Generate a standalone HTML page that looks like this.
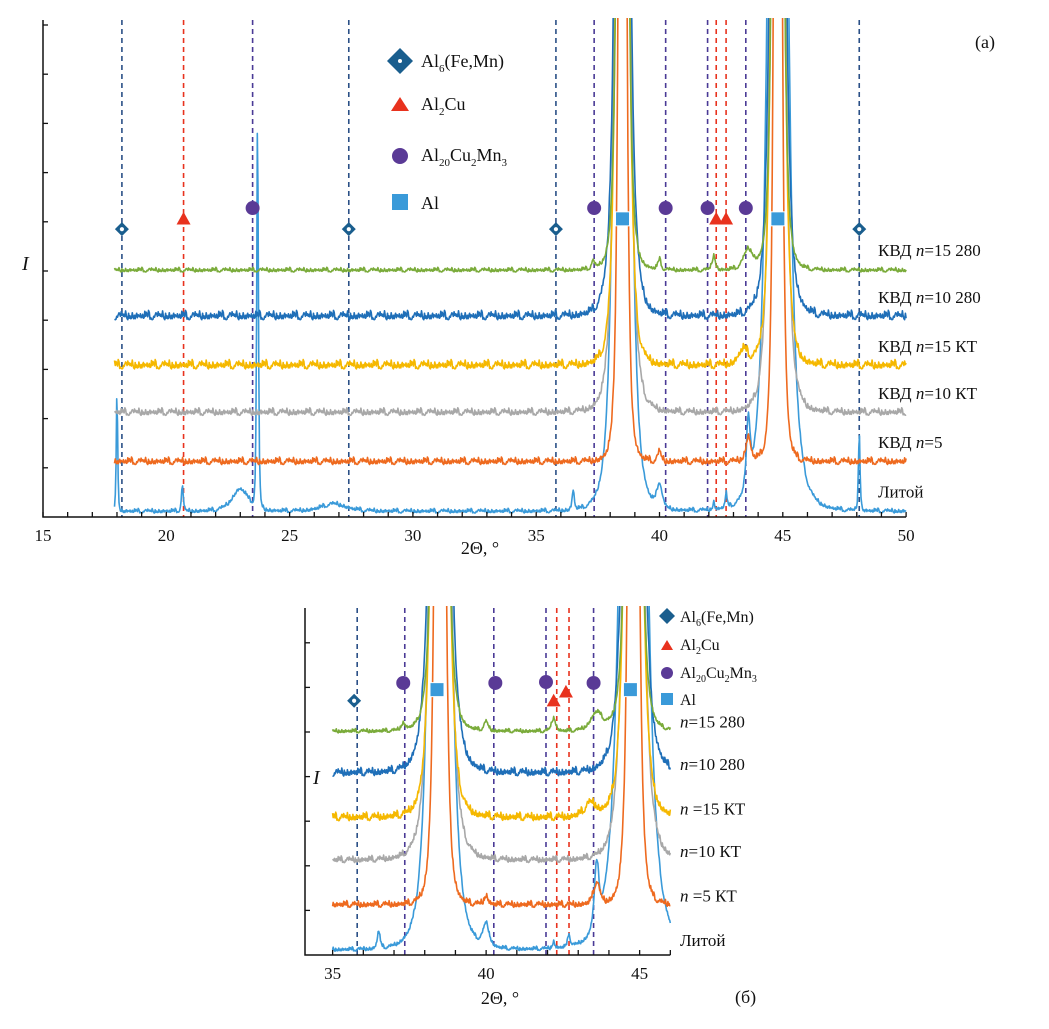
<!DOCTYPE html>
<html><head><meta charset="utf-8"><style>
body{margin:0;background:#fff}
svg text{font-family:"Liberation Serif",serif;fill:#111}
</style></head><body>
<svg id="s" width="1049" height="1024" viewBox="0 0 1049 1024">
<defs>
<clipPath id="ca"><rect x="43" y="18" width="864" height="500"/></clipPath>
<clipPath id="cb"><rect x="305" y="606" width="370" height="350"/></clipPath>
</defs>
<g id="ga"></g>
<g id="gb"></g>
</svg>
<script>
// ---- data ----
const seriesNames = ["Литой","КВД n=5","КВД n=10 КТ","КВД n=15 КТ","КВД n=10 280","КВД n=15 280"];
const seriesColors = ["#3a9ad9","#ee6a1f","#a8a8a8","#f5b800","#1f6fb8","#7aab3a"];
const seriesOffsets = [0.1,1.1,2.1,3.05,4.05,5.0];
const noiseAmp = [0.5,0.8,0.8,1.0,1.0,0.5];
// peaks per series: [position, height, width]
const peaksLit = [[18.0,2.5,0.05],[20.65,0.5,0.07],[23.0,0.45,0.6],[23.7,8,0.06],[26.8,0.15,0.9],[36.5,0.4,0.08],[38.5,40,0.35],[40.0,0.5,0.18],[42.2,0.15,0.07],[42.7,0.3,0.07],[43.6,1.4,0.14],[44.8,40,0.45],[48.1,1.6,0.06]];
const peaksN5 = [[38.5,40,0.18],[44.8,40,0.18],[40.0,0.2,0.12],[43.6,0.5,0.18]];
const peaksN10KT = [[38.5,40,0.3],[44.8,40,0.3]];
const peaksN15KT = [[38.5,40,0.26],[44.8,40,0.26],[43.4,0.3,0.35]];
const peaksN10280 = [[38.5,40,0.3],[44.8,40,0.3]];
const peaksN15280 = [[38.5,40,0.22],[44.8,40,0.22],[42.2,0.3,0.12],[43.6,0.4,0.35],[37.3,0.15,0.12],[40.0,0.2,0.12]];
const seriesPeaks = [peaksLit,peaksN5,peaksN10KT,peaksN15KT,peaksN10280,peaksN15280];
const jitter = [0.02,0.08,-0.03,0.11,0.0,0.05,-0.02,0.14,0.03,-0.04,0.06,0.01,0.09,-0.01,0.04,0.12,-0.03,0.02,0.07,0.0,0.1,-0.02,0.05,0.03,0.15,-0.01,0.06,0.02,-0.04,0.08,0.01,0.11,0.0,0.04,-0.02,0.09,0.03,0.06,-0.03,0.13,0.02,0.05,-0.01,0.07,0.1,0.0,0.03,0.08,-0.02,0.04];
// reference lines: [position, phase]
const refLines = [[18.2,"fe"],[20.7,"cu"],[23.5,"mn"],[27.4,"fe"],[35.8,"fe"],[37.35,"mn"],[40.25,"mn"],[41.95,"mn"],[42.3,"cu"],[42.7,"cu"],[43.5,"mn"],[48.1,"fe"]];
const markersA = [[18.2,"fe",5.85],[20.7,"cu",6.06],[23.5,"mn",6.28],[27.4,"fe",5.85],[35.8,"fe",5.85],[37.35,"mn",6.28],[38.5,"al",6.06],[40.25,"mn",6.28],[41.95,"mn",6.28],[42.3,"cu",6.06],[42.7,"cu",6.06],[43.5,"mn",6.28],[44.8,"al",6.06],[48.1,"fe",5.85]];
const markersB = [[35.7,"fe",5.7],[37.3,"mn",6.1],[38.4,"al",5.95],[40.3,"mn",6.1],[41.95,"mn",6.12],[42.2,"cu",5.7],[42.6,"cu",5.9],[43.5,"mn",6.1],[44.7,"al",5.95]];
const xTicksA = [15,20,25,30,35,40,45,50];
const xTicksB = [35,40,45];
const labelsA = ["Литой","КВД n=5","КВД n=10 КТ","КВД n=15 КТ","КВД n=10 280","КВД n=15 280"];
const labelsB = ["Литой","n =5 КТ","n=10 КТ","n =15 КТ","n=10 280","n=15 280"];

const NS="http://www.w3.org/2000/svg";
const phaseColor={fe:"#1a5e8e",cu:"#e8321e",mn:"#5a3a96",al:"#3a9ad9"};
const lineColor={fe:"#2a4f86",cu:"#e8321e",mn:"#4a3a96"};
function mk(p,tag,at){const e=document.createElementNS(NS,tag);for(const k in at)e.setAttribute(k,at[k]);p.appendChild(e);return e;}
function intensity(i,x,k){let v=seriesOffsets[i];for(const p of seriesPeaks[i]){const u=(x-p[0])/p[2];const q=1+u*u;v+=p[1]/(q*q);}v+=noiseAmp[i]*jitter[(k*7+i*13)%jitter.length];return v;}
function marker(g,ph,cx,cy,r){let e;
 if(ph==="fe"){e=mk(g,"polygon",{points:`${cx},${cy-r} ${cx+r},${cy} ${cx},${cy+r} ${cx-r},${cy}`,fill:phaseColor.fe});mk(g,"circle",{cx,cy,r:r*0.3,fill:"#fff"});}
 else if(ph==="cu")e=mk(g,"polygon",{points:`${cx},${cy-r} ${cx+r},${cy+r*0.8} ${cx-r},${cy+r*0.8}`,fill:phaseColor.cu});
 else if(ph==="mn")e=mk(g,"circle",{cx,cy,r,fill:phaseColor.mn});
 else e=mk(g,"rect",{x:cx-r,y:cy-r,width:2*r,height:2*r,fill:phaseColor.al,stroke:"#fff","stroke-width":1});
 return e;}
function chart(cfg){
 const g=document.getElementById(cfg.id);
 const X=v=>cfg.x0+(v-cfg.d0)*cfg.kx, Y=v=>cfg.y0-v*cfg.ky;
 for(const r of refLines){ if(r[0]<cfg.d0||r[0]>cfg.d1)continue;
  const l=mk(g,"line",{x1:X(r[0]),x2:X(r[0]),y1:cfg.top,y2:cfg.y0,stroke:lineColor[r[1]],"stroke-width":1.6,"stroke-dasharray":"5,4"});
  
  }
 const sg=mk(g,"g",{"clip-path":`url(#${cfg.clip})`});
 for(let i=0;i<6;i++){let d="",k=0;
  for(let x=cfg.s0;x<=cfg.s1+1e-9;x+=cfg.step,k++){d+=(k?"L":"M")+X(x).toFixed(1)+","+Y(Math.min(intensity(i,x,k),30)).toFixed(1);}
  const p=mk(sg,"path",{d,fill:"none",stroke:seriesColors[i],"stroke-width":1.6,"stroke-linejoin":"round"});
  
  }
 for(const m of cfg.markers){const e=marker(g,m[1],X(m[0]),Y(m[2]),cfg.mr);
  
  }
 const ax=mk(g,"path",{d:`M${cfg.x0},${cfg.top}V${cfg.y0}H${X(cfg.d1)}`,fill:"none",stroke:"#111","stroke-width":1.5});
 
 
 for(let v=1;v*cfg.ky<=cfg.y0-cfg.top;v++)mk(g,"line",{x1:cfg.x0,x2:cfg.x0+5,y1:Y(v),y2:Y(v),stroke:"#111","stroke-width":1.3});
 for(let v=Math.ceil(cfg.d0);v<=cfg.d1;v++)mk(g,"line",{x1:X(v),x2:X(v),y1:cfg.y0,y2:cfg.y0-5,stroke:"#111","stroke-width":1.3});
 for(const t of cfg.ticks){const e=mk(g,"text",{x:X(t),y:cfg.y0+24,"text-anchor":"middle","font-size":17});e.textContent=t;
  
  }
 for(let i=0;i<6;i++){const b=cfg.labels[i],e=mk(g,"text",{x:cfg.lx,y:Y(seriesOffsets[i]+cfg.ldy),"font-size":cfg.lfs});
  const parts=b.split("n");
  if(parts.length>1){e.appendChild(document.createTextNode(parts[0]));const t=mk(e,"tspan",{"font-style":"italic"});t.textContent="n";e.appendChild(document.createTextNode(parts[1]));}
  else e.textContent=b;
  
  }
}
chart({id:"ga",clip:"ca",x0:43,y0:517,top:20,d0:15,d1:50,kx:24.66,ky:49.2,s0:17.9,s1:50,step:0.03,markers:markersA,mr:7,ticks:xTicksA,labels:labelsA,lx:878,ldy:0.3,lfs:17});
chart({id:"gb",clip:"cb",x0:305,y0:955,top:608,d0:34.1,d1:46,kx:30.7,ky:44.6,s0:35,s1:46,step:0.02,markers:markersB,mr:7,ticks:xTicksB,labels:labelsB,lx:680,ldy:0.1,lfs:17});
</script>
<svg width="1049" height="1024" style="position:absolute;left:0;top:0">
<style>text{font-family:"Liberation Serif",serif;fill:#111}</style>
<text x="975" y="48" font-size="18">(a)</text>
<text x="480" y="554" font-size="18" text-anchor="middle">2Θ, °</text>
<text x="22" y="270" font-size="20" font-style="italic">I</text>
<g>
<polygon points="400,48 413,61 400,74 387,61" fill="#1a5e8e"/><circle cx="400" cy="61" r="2" fill="#fff"/>
<text x="421" y="67" font-size="18">Al<tspan font-size="11" dy="5">6</tspan><tspan dy="-5">(Fe,Mn)</tspan></text>
<polygon points="391,111 400,97 409,111" fill="#e8321e"/>
<text x="421" y="110" font-size="18">Al<tspan font-size="11" dy="5">2</tspan><tspan dy="-5">Cu</tspan></text>
<circle cx="400" cy="156" r="8" fill="#5a3a96"/>
<text x="421" y="161" font-size="18">Al<tspan font-size="11" dy="5">20</tspan><tspan dy="-5">Cu</tspan><tspan font-size="11" dy="5">2</tspan><tspan dy="-5">Mn</tspan><tspan font-size="11" dy="5">3</tspan></text>
<rect x="392" y="194" width="16" height="16" fill="#3a9ad9"/>
<text x="421" y="209" font-size="18">Al</text>
</g>
<text x="735" y="1003" font-size="18">(б)</text>
<text x="500" y="1004" font-size="18" text-anchor="middle">2Θ, °</text>
<text x="313" y="784" font-size="20" font-style="italic">I</text>
<g>
<polygon points="667,608 675,616 667,624 659,616" fill="#1a5e8e"/>
<text x="680" y="622" font-size="16">Al<tspan font-size="10" dy="4">6</tspan><tspan dy="-4">(Fe,Mn)</tspan></text>
<polygon points="661,650 667,640 673,650" fill="#e8321e"/>
<text x="680" y="650" font-size="16">Al<tspan font-size="10" dy="4">2</tspan><tspan dy="-4">Cu</tspan></text>
<circle cx="667" cy="673" r="6" fill="#5a3a96"/>
<text x="680" y="678" font-size="16">Al<tspan font-size="10" dy="4">20</tspan><tspan dy="-4">Cu</tspan><tspan font-size="10" dy="4">2</tspan><tspan dy="-4">Mn</tspan><tspan font-size="10" dy="4">3</tspan></text>
<rect x="661" y="693" width="12" height="12" fill="#3a9ad9"/>
<text x="680" y="705" font-size="16">Al</text>
</g>
</svg>
</body></html>
